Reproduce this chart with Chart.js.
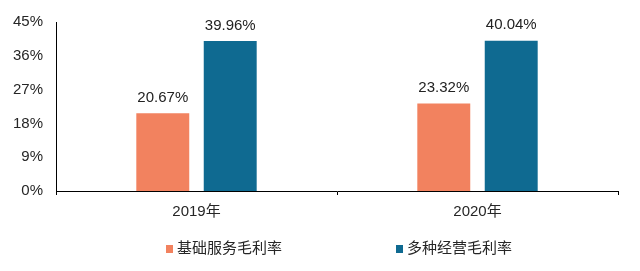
<!DOCTYPE html>
<html>
<head>
<meta charset="utf-8">
<script src="https://cdn.jsdelivr.net/npm/chart.js@4/dist/chart.umd.min.js"></script>
<style>
  body { margin: 0; background: #fff; }
  #wrap { position: relative; width: 640px; height: 271px; }
  #legend { position: absolute; top: 238px; left: 0; width: 640px; height: 20px;
            font-family: "Liberation Sans", Arial, "Noto Sans CJK SC", sans-serif; font-size: 15px; color: #262626; }
  .item { position: absolute; top: 0; line-height: 20px; white-space: nowrap; }
  .item i { display: inline-block; width: 7px; height: 8px; margin-right: 4px; vertical-align: 0px; }
</style>
</head>
<body>
<div id="wrap">
  <canvas id="Grafico" width="640" height="271"></canvas>
  <div id="legend"></div>
</div>
<script>
const categorias = ['2019年', '2020年'];
const basico = [20.67, 23.32];
const diversificado = [39.96, 40.04];
const nombres = ['基础服务毛利率', '多种经营毛利率'];
const colores = ['#F2825F', '#0F6A91'];
const ticks_y = [0, 9, 18, 27, 36, 45];

const fuente = '"Liberation Sans", Arial, "Noto Sans CJK SC", sans-serif';

// etiquetas de valor encima de cada barra
const etiquetas = {
    id: 'etiquetas',
    afterDatasetsDraw(chart) {
        const ctx = chart.ctx;
        ctx.save();
        ctx.font = '15px ' + fuente;
        ctx.fillStyle = '#222';
        ctx.textAlign = 'center';
        ctx.textBaseline = 'bottom';
        chart.data.datasets.forEach((ds, i) => {
            chart.getDatasetMeta(i).data.forEach((bar, j) => {
                ctx.fillText(ds.data[j].toFixed(2) + '%', bar.x, bar.y - 8);
            });
        });
        ctx.restore();
    }
};

const ctx = document.getElementById('Grafico');
new Chart(ctx, {
    type: 'bar',
    data: {
        labels: categorias,
        datasets: [
            { label: nombres[0], data: basico, backgroundColor: colores[0] },
            { label: nombres[1], data: diversificado, backgroundColor: colores[1] }
        ]
    },
    options: {
        responsive: false,
        animation: false,
        layout: { padding: { top: 20, left: 0, right: 22, bottom: 42 } },
        plugins: { legend: { display: false }, tooltip: { enabled: false } },
        datasets: { bar: { categoryPercentage: 0.48, barPercentage: 0.785 } },
        scales: {
            x: {
                grid: { drawOnChartArea: false, drawTicks: true, tickLength: 4, color: '#000' },
                border: { display: true, color: '#000', width: 1 },
                ticks: { color: '#262626', font: { family: fuente, size: 15 }, padding: 8 }
            },
            y: {
                min: 0,
                max: 45,
                afterBuildTicks: (axis) => { axis.ticks = ticks_y.map(v => ({ value: v })); },
                afterFit: (axis) => { axis.width = 56; },
                grid: { display: false, drawTicks: false },
                border: { display: true, color: '#000', width: 1 },
                ticks: {
                    color: '#262626',
                    font: { family: fuente, size: 15 },
                    padding: 13,
                    callback: (v) => v + '%'
                }
            }
        }
    },
    plugins: [etiquetas]
});

// leyenda en HTML
const leyenda = document.getElementById('legend');
const posiciones = [166, 396];
nombres.forEach((n, i) => {
    const d = document.createElement('div');
    d.className = 'item';
    d.style.left = posiciones[i] + 'px';
    d.innerHTML = '<i style="background:' + colores[i] + '"></i>' + n;
    leyenda.appendChild(d);
});
</script>
</body>
</html>
